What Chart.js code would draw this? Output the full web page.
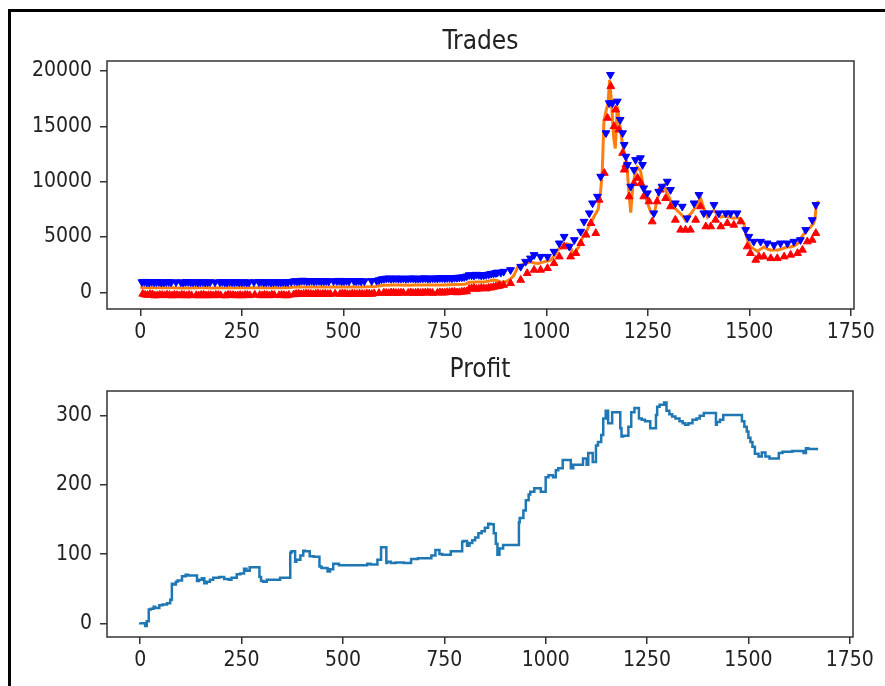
<!DOCTYPE html>
<html>
<head>
<meta charset="utf-8">
<script src="https://cdn.jsdelivr.net/npm/chart.js@4.4.0/dist/chart.umd.min.js"></script>
<style>
  body { margin: 0; background: #fff; width: 885px; height: 686px; overflow: hidden; position: relative; }
  canvas { position: absolute; left: 0; }
  #trades { top: 0; }
  #profit { top: 345px; }
  #frame { position: absolute; left: 8px; top: 9px; right: 0; bottom: 0;
           border-left: 3px solid #000; border-top: 3px solid #000; pointer-events: none; }
</style>
</head>
<body>
<canvas id="trades" width="885" height="345"></canvas>
<canvas id="profit" width="885" height="341"></canvas>
<div id="frame"></div>
<script>
// tick positions
const xTicks = [0, 250, 500, 750, 1000, 1250, 1500, 1750];
const tradeTicks = [0, 5000, 10000, 15000, 20000];
const profitTicks = [0, 100, 200, 300];

// price line: [step, price]
const price = [
  [0,430],[20,420],[40,410],[60,400],[80,410],[100,380],[120,390],[140,400],[160,400],[180,390],
  [200,400],[220,410],[240,400],[260,400],[280,410],[300,400],[320,400],[340,410],[360,400],[380,470],
  [400,480],[420,470],[440,480],[460,470],[480,480],[500,470],[520,480],[540,480],[560,500],[580,520],
  [600,640],[620,660],[640,650],[660,640],[680,650],[700,660],[720,650],[740,660],[760,680],[780,700],
  [800,720],[810,900],[830,920],[850,950],[870,1100],[880,1050],[890,900],[900,950],[910,1150],[920,1500],
  [930,2300],[940,2500],[950,2600],[960,2750],[970,2650],[980,2600],[990,2700],[1000,2800],[1010,2900],[1020,3300],
  [1030,3900],[1040,4100],[1050,4400],[1058,4300],[1065,3500],[1072,3700],[1080,4100],[1090,5000],[1100,5600],[1110,6300],
  [1120,7000],[1128,7500],[1134,9200],[1138,11000],[1142,15500],[1148,16500],[1152,17000],[1156,19200],[1160,17500],[1163,15800],
  [1166,14000],[1170,13000],[1175,16800],[1180,15500],[1186,13800],[1192,12600],[1198,11800],[1203,9300],[1208,7200],[1213,9500],
  [1218,10600],[1224,11300],[1232,11000],[1240,9300],[1246,8500],[1252,7800],[1258,7200],[1265,7000],[1271,8000],[1277,8900],
  [1284,9600],[1290,9700],[1296,9100],[1302,8600],[1308,8100],[1314,7700],[1322,7400],[1331,7100],[1338,6800],[1343,6500],
  [1350,6900],[1356,7100],[1364,7500],[1372,8000],[1380,8500],[1388,7600],[1397,6800],[1405,7200],[1413,7400],[1422,7000],
  [1430,6800],[1440,6900],[1450,6800],[1460,6700],[1470,6750],[1480,6600],[1487,6200],[1492,5200],[1497,4600],[1504,4100],
  [1512,3900],[1520,3700],[1528,3900],[1536,4100],[1545,3900],[1553,3800],[1561,3850],[1569,3800],[1578,3900],[1586,4000],
  [1594,4100],[1602,4100],[1611,4200],[1619,4400],[1627,4900],[1635,5300],[1643,5600],[1651,5900],[1658,6200],[1662,6600],
  [1665,7900],[1668,8100],[1672,8200]
];

// sell signals: [step, level]
const sells = [
  [4,930],[10,960],[16,900],[22,880],[28,950],[34,910],[40,920],[46,950],[52,880],[58,900],
  [64,930],[70,940],[76,900],[88,920],[100,910],[106,880],[112,940],[118,950],[124,900],[130,910],
  [136,930],[142,890],[148,910],[154,940],[160,890],[166,900],[172,930],[184,910],[196,920],[202,950],
  [208,900],[214,890],[220,940],[226,920],[232,910],[238,940],[244,900],[250,900],[256,930],[262,890],
  [268,910],[280,930],[292,920],[298,950],[304,900],[310,910],[316,940],[322,890],[328,910],[334,940],
  [340,900],[346,910],[352,930],[358,900],[364,920],[372,960],[380,1020],[386,1000],[392,1000],[398,1060],
  [404,1050],[410,1000],[416,1020],[422,1040],[428,1000],[434,1020],[440,1040],[446,1000],[452,1010],[458,1030],
  [464,990],[476,1010],[484,1030],[490,1050],[496,1000],[502,1020],[508,1040],[514,1000],[526,1030],[532,1010],
  [538,1040],[544,1000],[552,1010],[570,1030],[582,1050],[588,1100],[594,1180],[600,1220],[606,1250],[612,1270],
  [618,1230],[624,1240],[630,1270],[636,1230],[642,1240],[648,1260],[654,1220],[660,1240],[666,1260],[672,1270],
  [678,1230],[684,1240],[690,1250],[696,1260],[702,1280],[708,1230],[714,1240],[720,1270],[726,1260],[732,1250],
  [738,1300],[744,1280],[750,1270],[756,1300],[762,1290],[768,1270],[774,1310],[780,1320],[786,1340],[792,1360],
  [798,1380],[804,1450],[810,1560],[816,1540],[822,1520],[828,1600],[834,1580],[840,1520],[846,1550],[852,1580],
  [858,1620],[864,1680],[870,1700],[876,1750],[880,1800],[888,1780],[895,1870],[912,2020],[937,2320],[949,2770],
  [961,3070],[970,3380],[986,3220],[1003,3220],[1019,3680],[1032,4430],[1044,5030],[1057,4130],[1069,4730],[1085,5490],
  [1093,6390],[1106,7150],[1114,8050],[1126,8650],[1134,10460],[1147,14390],[1155,17100],[1158,19660],[1163,17100],[1175,17250],
  [1182,15590],[1188,14390],[1192,13330],[1196,12270],[1200,11520],[1208,9560],[1216,11070],[1220,11970],[1232,12130],[1237,11520],
  [1240,9410],[1249,8960],[1265,7150],[1277,9100],[1285,9560],[1298,10010],[1306,9260],[1318,8050],[1335,7750],[1347,6700],
  [1364,8050],[1376,8810],[1388,7150],[1401,7150],[1413,7900],[1425,7150],[1442,7150],[1454,7150],[1470,7150],[1491,5640],
  [1499,5030],[1511,4580],[1528,4580],[1544,4430],[1561,4280],[1577,4430],[1594,4430],[1610,4580],[1626,4730],[1639,5640],
  [1655,6540],[1664,7900]
];

// buy signals: [step, level]
const buys = [
  [6,-150],[12,-220],[18,-250],[24,-180],[30,-200],[36,-300],[42,-280],[48,-240],[54,-250],[60,-280],
  [66,-220],[72,-250],[78,-300],[84,-230],[90,-260],[96,-290],[102,-230],[108,-260],[114,-300],[120,-240],
  [126,-280],[138,-270],[144,-300],[150,-250],[156,-230],[162,-300],[168,-260],[174,-270],[180,-290],[186,-240],
  [192,-250],[198,-280],[210,-300],[216,-230],[222,-250],[228,-260],[234,-290],[240,-280],[246,-260],[252,-300],
  [258,-240],[264,-250],[270,-280],[282,-230],[294,-260],[300,-290],[306,-240],[312,-260],[318,-290],[324,-230],
  [330,-250],[342,-280],[348,-240],[354,-270],[360,-300],[366,-240],[378,-200],[384,-150],[390,-130],[396,-180],
  [402,-160],[408,-120],[414,-140],[420,-160],[426,-180],[432,-140],[438,-120],[444,-170],[450,-150],[456,-130],
  [462,-170],[468,-150],[480,-140],[492,-160],[498,-120],[504,-140],[510,-160],[516,-180],[522,-130],[528,-150],
  [534,-170],[540,-130],[546,-150],[552,-170],[558,-120],[564,-140],[570,-160],[576,-100],[588,-80],[600,-40],
  [606,-60],[612,-80],[618,-20],[624,-30],[630,-70],[636,-60],[642,-40],[648,-50],[660,-60],[666,-20],
  [672,-70],[678,-50],[684,-30],[690,-70],[696,-50],[702,-30],[708,-10],[714,-40],[720,-60],[732,-50],
  [738,-10],[744,-30],[750,-40],[756,0],[762,10],[768,20],[774,40],[780,-20],[786,0],[792,40],
  [798,60],[804,80],[810,300],[816,350],[822,380],[828,300],[834,320],[840,380],[846,360],[852,330],
  [858,400],[864,420],[870,480],[876,520],[882,560],[886,600],[895,660],[912,810],[937,1110],[953,1720],
  [970,2020],[986,2020],[1003,2170],[1019,2620],[1032,3220],[1044,4130],[1060,3220],[1073,3530],[1085,4430],[1098,5190],
  [1110,6240],[1122,5340],[1130,8350],[1143,10770],[1151,15750],[1159,18610],[1167,14990],[1171,16500],[1179,14690],[1188,12580],
  [1192,11070],[1196,11520],[1204,8650],[1216,9860],[1225,10320],[1233,9860],[1240,8650],[1253,8200],[1261,6390],[1273,8200],
  [1281,9260],[1294,8500],[1306,7750],[1318,6540],[1331,5640],[1343,5640],[1355,5640],[1368,6540],[1380,7750],[1393,5940],
  [1405,5940],[1417,6540],[1430,5940],[1446,6240],[1462,6090],[1479,6390],[1495,4130],[1503,3530],[1516,2920],[1524,3220],
  [1536,3220],[1553,3070],[1569,3070],[1586,3220],[1602,3380],[1619,3530],[1631,3830],[1643,4580],[1655,4730],[1664,5340]
];

// cumulative profit: [step, value from this step on]
const profit = [
  [0,1],[12,0],[16,-4],[21,3],[26,20],[33,21],[37,24],[47,22],[55,26],[66,27],
  [74,29],[78,34],[82,57],[88,56],[92,60],[103,62],[112,68],[118,70],[140,69],[145,61],
  [152,63],[158,65],[164,58],[172,60],[180,63],[195,66],[207,67],[218,64],[225,63],[238,66],
  [247,71],[256,72],[262,79],[270,76],[280,81],[294,81],[298,67],[304,61],[312,60],[322,63],
  [345,63],[360,66],[370,66],[373,102],[382,104],[385,89],[395,92],[402,98],[407,105],[418,104],
  [428,97],[442,96],[447,82],[462,80],[468,75],[476,78],[490,86],[500,84],[560,84],[568,86],
  [585,85],[594,92],[598,110],[607,110],[609,87],[618,89],[630,87],[650,88],[668,87],[685,93],
  [718,94],[728,98],[738,106],[745,100],[766,99],[771,104],[794,104],[797,118],[806,119],[812,112],
  [819,116],[826,120],[834,124],[842,130],[850,133],[858,138],[864,144],[872,143],[877,130],[881,115],
  [886,99],[895,108],[903,113],[934,113],[936,146],[945,152],[951,163],[958,178],[962,186],[972,190],
  [988,195],[1000,190],[1007,211],[1018,214],[1025,211],[1031,221],[1042,224],[1048,236],[1062,236],[1068,224],
  [1092,229],[1101,238],[1105,229],[1116,246],[1124,233],[1129,257],[1137,262],[1142,272],[1148,296],[1154,307],
  [1164,289],[1169,305],[1184,305],[1187,282],[1191,270],[1204,271],[1211,284],[1219,305],[1230,311],[1237,296],
  [1245,294],[1258,292],[1260,282],[1272,282],[1275,301],[1281,313],[1292,316],[1298,319],[1305,307],[1312,302],
  [1320,299],[1330,296],[1338,292],[1344,289],[1352,287],[1362,289],[1372,294],[1380,296],[1390,300],[1397,304],
  [1420,304],[1422,287],[1430,291],[1438,294],[1462,301],[1484,301],[1490,292],[1496,284],[1500,277],[1505,268],
  [1510,262],[1516,255],[1525,245],[1533,241],[1542,247],[1552,241],[1575,238],[1584,246],[1608,248],[1636,249],
  [1642,246],[1648,253],[1672,252]
];

const FONT = "'DejaVu Sans Condensed', 'DejaVu Sans', sans-serif";
const INK = '#222';
const SPINE = '#333';

const toXY = arr => arr.map(p => ({ x: p[0], y: p[1] }));

// full box around the plot area
const boxPlugin = {
  id: 'box',
  afterDatasetsDraw(chart) {
    const a = chart.chartArea, ctx = chart.ctx;
    ctx.save();
    ctx.strokeStyle = SPINE;
    ctx.lineWidth = 1.5;
    ctx.strokeRect(a.left, a.top, a.right - a.left, a.bottom - a.top);
    ctx.restore();
  }
};

// title centred over the plot area rather than the whole canvas
const axTitle = {
  id: 'axTitle',
  afterDraw(chart, args, opts) {
    const a = chart.chartArea, ctx = chart.ctx;
    ctx.save();
    ctx.font = '26px ' + FONT;
    ctx.fillStyle = INK;
    ctx.textAlign = 'center';
    ctx.textBaseline = 'middle';
    ctx.fillText(opts.text, (a.left + a.right) / 2, opts.y);
    ctx.restore();
  }
};

function makeScales(ymin, ymax, yticks, xHeight) {
  const grid = { drawOnChartArea: false, drawTicks: true, tickLength: 7, color: SPINE, lineWidth: 1.5 };
  const ticks = { color: INK, font: { family: FONT, size: 21 }, autoSkip: false, maxRotation: 0,
                  callback: v => String(v) };
  return {
    x: {
      type: 'linear', min: -82, max: 1758,
      afterBuildTicks: a => { a.ticks = xTicks.map(v => ({ value: v })); },
      afterFit: a => { a.height = xHeight; },
      grid: grid, border: { display: false },
      ticks: Object.assign({ padding: 4 }, ticks)
    },
    y: {
      min: ymin, max: ymax,
      afterBuildTicks: a => { a.ticks = yticks.map(v => ({ value: v })); },
      afterFit: a => { a.width = 107; },
      grid: grid, border: { display: false },
      ticks: Object.assign({ padding: 8 }, ticks)
    }
  };
}

new Chart(document.getElementById('trades'), {
  type: 'line',
  data: {
    datasets: [
      { data: toXY(sells), showLine: false, pointStyle: 'triangle', rotation: 180,
        pointRadius: 4.5, backgroundColor: '#0000ff', borderColor: '#0000ff', borderWidth: 1, order: 1 },
      { data: toXY(buys), showLine: false, pointStyle: 'triangle',
        pointRadius: 4.5, backgroundColor: '#ff0000', borderColor: '#ff0000', borderWidth: 1, order: 2 },
      { data: toXY(price), borderColor: '#ff7f0e', borderWidth: 3, pointRadius: 0, order: 3 }
    ]
  },
  options: {
    responsive: false, animation: false, devicePixelRatio: 1,
    layout: { padding: { left: 0, right: 31, top: 61, bottom: 0 } },
    plugins: {
      legend: { display: false }, tooltip: { enabled: false },
      axTitle: { text: 'Trades', y: 42 }
    },
    scales: makeScales(-1510, 20900, tradeTicks, 36)
  },
  plugins: [boxPlugin, axTitle]
});

new Chart(document.getElementById('profit'), {
  type: 'line',
  data: {
    datasets: [
      { data: toXY(profit), stepped: 'after', borderColor: '#1f77b4', borderWidth: 2.5, pointRadius: 0 }
    ]
  },
  options: {
    responsive: false, animation: false, devicePixelRatio: 1,
    layout: { padding: { left: 0, right: 32, top: 46, bottom: 0 } },
    plugins: {
      legend: { display: false }, tooltip: { enabled: false },
      axTitle: { text: 'Profit', y: 25 }
    },
    scales: makeScales(-19.8, 335.7, profitTicks, 49)
  },
  plugins: [boxPlugin, axTitle]
});
</script>
</body>
</html>
